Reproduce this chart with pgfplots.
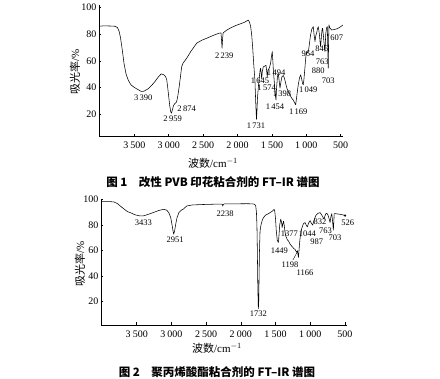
\documentclass[border=0pt]{standalone}
\usepackage{fontspec}
\setmainfont{Liberation Serif}
\newfontfamily\cjk{Noto Sans CJK SC}
\usepackage{pgfplots}
\pgfplotsset{compat=1.18}
\newcommand{\tsp}{\hspace{0.22em}}
\tikzset{lab/.style={font=\fontsize{8.5}{8.5}\selectfont, inner sep=0pt}}
\pgfplotsset{
  irstyle/.style={
    scale only axis, clip=false, x dir=reverse,
    axis x line*=bottom, axis y line*=left,
    axis line style={black, line width=0.6pt},
    tick align=inside, major tick length=2.5pt,
    tick style={black, line width=0.5pt},
    xtick={500,1000,1500,2000,2500,3000,3500},
    xticklabels={500,1\tsp000,1\tsp500,2\tsp000,2\tsp500,3\tsp000,3\tsp500},
    ytick={20,40,60,80,100},
    yticklabels={20,40,60,80,100},
    ticklabel style={font=\fontsize{10}{10}\selectfont},
    xticklabel style={yshift=-2pt},
    yticklabel style={xshift=1pt},
  },
}
\begin{document}
\begin{tikzpicture}[x=1pt,y=1pt]
\path[use as bounding box] (0,0) rectangle (440,379);
% ---------- Figure 1 ----------
\begin{axis}[irstyle, at={(99pt,242.3pt)}, anchor=south west,
  width=244pt, height=131.7pt, xmin=467, xmax=4014, ymin=3, ymax=102]
\addplot[black, line width=0.55pt, line join=round] coordinates {
(4010,86)(3950,86.3)(3850,86.2)(3780,86)(3745,85)(3720,82)(3700,77)(3675,68)(3650,58)(3620,50)(3590,45.7)(3550,42)(3500,40)(3450,38.5)(3400,37)(3360,37.2)(3300,39)(3250,41.5)(3200,44.5)(3150,48)(3110,50.2)(3070,49.5)(3045,48)(3030,46)(3015,40)(3000,33)(2985,26)(2970,21.5)(2960,20.7)(2948,23)(2930,26.5)(2910,28)(2895,28.5)(2885,29.5)(2870,33)(2850,40)(2830,48)(2812,55.7)(2790,58.5)(2739,62)(2680,67)(2594,73.3)(2520,75.5)(2449,77)(2350,79.2)(2270,80.8)(2240,81)(2232,75)(2225,69.5)(2218,76)(2210,81)(2160,83)(2110,84.5)(2030,86.5)(1950,88)(1900,89)(1860,90.2)(1844,90.7)(1825,89)(1810,86)(1795,80)(1780,70)(1765,58)(1747,45)(1735,28)(1725,16)(1718,22)(1710,32)(1699,39.5)(1685,47)(1672,53)(1664,54.5)(1655,50)(1649,46.5)(1640,52)(1626,55.5)(1605,56)(1587,56.7)(1578,53)(1568,48)(1558,53)(1539,54.5)(1520,58)(1505,64)(1495,67)(1487,60)(1478,52)(1470,47)(1460,40)(1450,34)(1441,30.7)(1432,40)(1420,48)(1408,50.7)(1395,45)(1383,39.5)(1370,44)(1355,48)(1335,49)(1318,47)(1300,43)(1280,39)(1262,37)(1240,34.5)(1213,32)(1190,30.5)(1170,28.5)(1155,27)(1140,33)(1128,38)(1117,42)(1100,47)(1083,49.5)(1068,46.5)(1055,43)(1045,42)(1035,46)(1020,55)(1005,64.5)(990,67)(975,66)(965,69)(957,72)(940,79)(920,84)(899,85.7)(888,80)(874,74.5)(862,79)(850,81)(838,84)(826,85.7)(810,80)(800,74)(792,70.7)(780,79)(770,84)(763,84.5)(750,78)(740,72)(729,67)(718,80)(705,85)(695,85.7)(688,70)(681,54.5)(676,75)(671,87)(660,85)(645,84)(632,83.2)(600,83.5)(560,84)(520,85)(480,86.5)(470,87)
};
\node[lab] at (axis cs:3370,32) {3\,390};
\node[lab] at (axis cs:2943,16.5) {2\,959};
\node[lab] at (axis cs:2739,24) {2\,874};
\node[lab] at (axis cs:2193,63.7) {2\,239};
\node[lab] at (axis cs:1732,11.5) {1\,731};
\node[lab] at (axis cs:1674,45.2) {1\,645};
\node[lab] at (axis cs:1577,39.5) {1\,574};
\node[lab] at (axis cs:1440,50.8) {1\,494};
\node[lab] at (axis cs:1456,25.3) {1\,454};
\node[lab] at (axis cs:1354,35) {1\,398};
\node[lab] at (axis cs:1117,21.5) {1\,169};
\node[lab] at (axis cs:972,38.2) {1\,049};
\node[lab] at (axis cs:976,65) {964};
\node[lab] at (axis cs:777,69.5) {846};
\node[lab] at (axis cs:826,52.7) {880};
\node[lab] at (axis cs:768,59.5) {763};
\node[lab] at (axis cs:681,45.2) {703};
\node[lab] at (axis cs:559,77.5) {607};
\end{axis}
\node[rotate=90, font=\fontsize{11}{11}\selectfont] at (75,307) {{\cjk 吸光率}/\%};
\node[font=\fontsize{11}{11}\selectfont] at (213,216) {{\cjk 波数}/cm$^{-1}$};
\node[font=\cjk\bfseries\fontsize{11.5}{11.5}\selectfont] at (213,197) {图 1\quad 改性 PVB 印花粘合剂的 FT–IR 谱图};
% ---------- Figure 2 ----------
\begin{axis}[irstyle, at={(101pt,54pt)}, anchor=south west,
  width=245.7pt, height=126pt, xmin=475, xmax=4014, ymin=1.5, ymax=100.5]
\addplot[black, line width=0.55pt, line join=round] coordinates {
(4010,98.4)(3900,98.5)(3830,98.2)(3780,97)(3736,95)(3680,92.5)(3630,90.5)(3592,89.8)(3520,88)(3450,87.2)(3400,87.3)(3330,88.5)(3255,90)(3180,91.5)(3111,92.4)(3070,91.8)(3039,90)(3010,86)(2990,80)(2975,75)(2967,72.9)(2955,75)(2940,80)(2919,85.9)(2890,90)(2850,92)(2828,92.6)(2779,95)(2700,95.8)(2588,96.1)(2400,96.4)(2275,96.5)(2265,96)(2260,95)(2255,96)(2240,96.6)(2100,96.7)(1915,96.8)(1830,96.7)(1800,96.3)(1785,95)(1775,90)(1768,80)(1762,60)(1756,35)(1750,18)(1747,14.3)(1742,20)(1737,40)(1732,58)(1726,70)(1723,75.5)(1710,80)(1690,84)(1675,85.9)(1640,88)(1600,89)(1579,89.8)(1545,91)(1521,92.4)(1510,90.5)(1500,85)(1490,76)(1475,68)(1459,66.3)(1450,72)(1440,80)(1425,84.6)(1412,82)(1405,78)(1395,81)(1385,83)(1375,80)(1365,75)(1350,71)(1330,68.5)(1315,67.6)(1290,65)(1260,63)(1235,61.5)(1219,61)(1205,59.5)(1194,58.5)(1185,60)(1177,57)(1170,54.6)(1162,60)(1155,65)(1146,70)(1125,77)(1099,81)(1075,82)(1058,80)(1041,78.6)(1025,81.5)(1002,83.5)(985,81.5)(965,80)(945,84)(920,87.5)(890,89.2)(858,89.8)(835,88)(815,86)(801,84.6)(790,87)(775,89)(762,89.3)(745,88)(728,85)(714,82)(705,86)(690,89)(680,84)(667,76)(660,83)(655,89)(642,89)(600,88.7)(570,88.5)(530,88)(498,87.5)
};
\addplot[only marks, mark=*, mark size=0.9pt, black] coordinates {(498,87.5)};
\node[lab] at (axis cs:3404,81.5) {3433};
\node[lab] at (axis cs:2948,68.4) {2951};
\node[lab] at (axis cs:2227,89.3) {2238};
\node[lab] at (axis cs:1747,10.4) {1732};
\node[lab] at (axis cs:1445,59.8) {1449};
\node[lab] at (axis cs:1301,73.4) {1377};
\node[lab] at (axis cs:1040,73.0) {1044};
\node[lab] at (axis cs:906,66.6) {987};
\node[lab] at (axis cs:858,82.5) {832};
\node[lab] at (axis cs:780,75.2) {763};
\node[lab] at (axis cs:642,70.2) {703};
\node[lab] at (axis cs:460,81.5) {526};
\node[lab] at (axis cs:1291,48.9) {1198};
\node[lab] at (axis cs:1075,42.9) {1166};
\draw[line width=0.4pt] (axis cs:1250,52.5) -- (axis cs:1196,58);
\end{axis}
\node[rotate=90, font=\fontsize{11}{11}\selectfont] at (80,115) {{\cjk 吸光率}/\%};
\node[font=\fontsize{11}{11}\selectfont] at (217,31) {{\cjk 波数}/cm$^{-1}$};
\node[font=\cjk\bfseries\fontsize{11.5}{11.5}\selectfont] at (217,7) {图 2\quad 聚丙烯酸酯粘合剂的 FT–IR 谱图};
\end{tikzpicture}
\end{document}
